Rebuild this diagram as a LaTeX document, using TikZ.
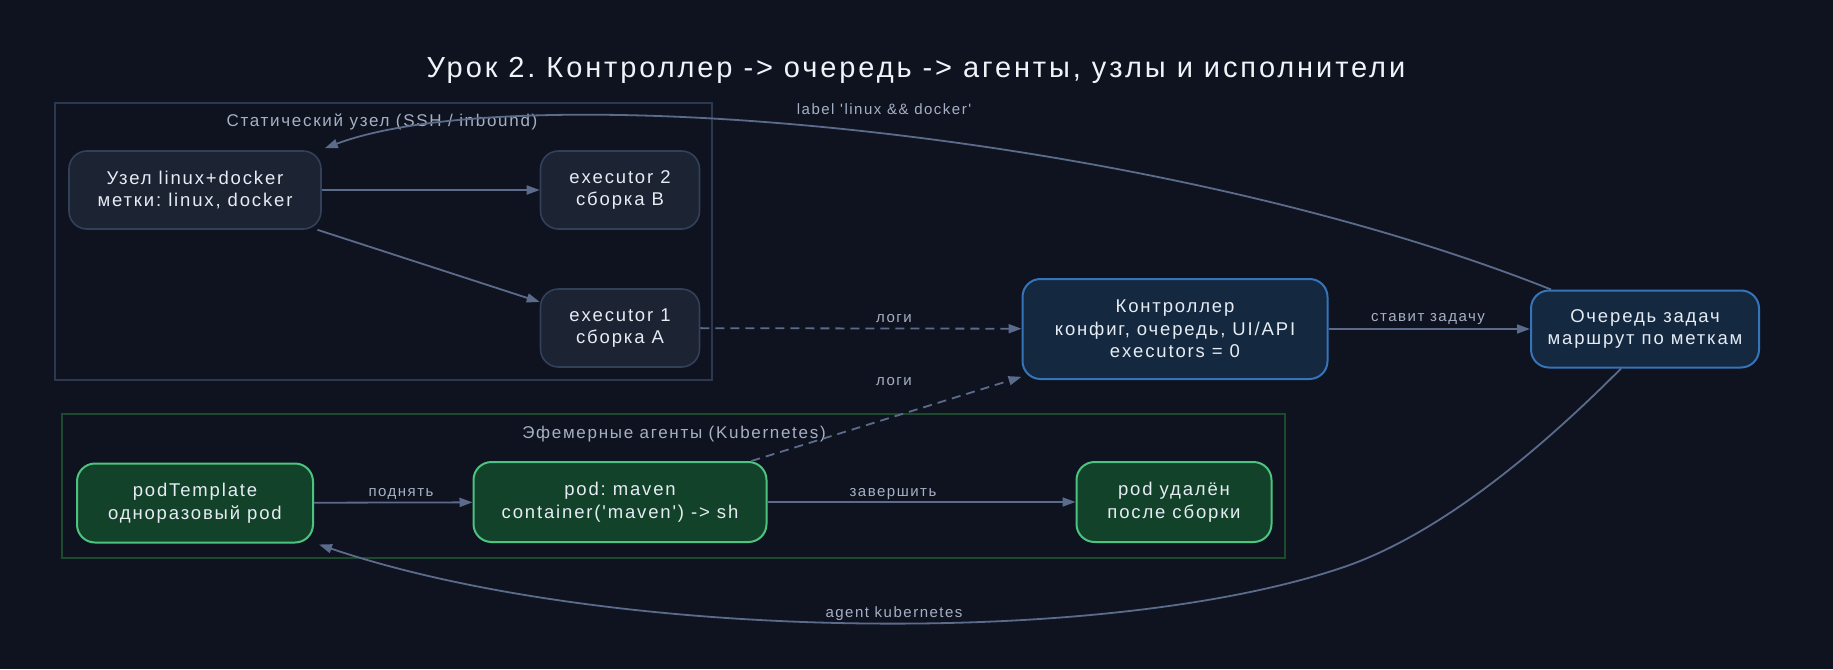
\documentclass[tikz,border=0pt]{standalone}
\usepackage{fontspec}
\setmainfont{Liberation Sans}[Ligatures=TeXOff, LetterSpace=10]
\usetikzlibrary{arrows.meta}
\definecolor{bg}{HTML}{0F1320}
\definecolor{darkfill}{HTML}{1C2333}
\definecolor{darkline}{HTML}{33405A}
\definecolor{bluefill}{HTML}{142840}
\definecolor{blueline}{HTML}{3574B8}
\definecolor{greenfill}{HTML}{13422A}
\definecolor{greenline}{HTML}{4CC480}
\definecolor{statline}{HTML}{2C3850}
\definecolor{kubeline}{HTML}{1B4A2C}
\definecolor{edgecol}{HTML}{5B6B8C}
\definecolor{labcol}{HTML}{A6B0C4}
\definecolor{nodetext}{HTML}{E6ECF4}
\definecolor{titlecol}{HTML}{F0F4F8}
\tikzset{
  box/.style={rectangle, rounded corners=18pt, align=center, inner sep=0pt,
    text=nodetext, font=\fontsize{18.5}{22.5}\selectfont},
  darkbox/.style={box, fill=darkfill, draw=darkline, line width=1.6pt},
  bluebox/.style={box, fill=bluefill, draw=blueline, line width=2pt},
  greenbox/.style={box, fill=greenfill, draw=greenline, line width=2pt},
  cluster/.style={draw, line width=1.3pt, fill=none},
  clabel/.style={text=labcol, font=\fontsize{17}{20}\selectfont, inner sep=0pt},
  elabel/.style={text=labcol, font=\fontsize{15}{18}\selectfont, inner sep=0pt},
  edge/.style={draw=edgecol, line width=1.8pt, -{Triangle[length=13pt,width=9pt]}},
  dashedge/.style={edge, dash pattern=on 9pt off 6pt},
}
\frenchspacing
\begin{document}
\begin{tikzpicture}[x=1pt,y=-1pt]
\fill[bg] (0,0) rectangle (1833,669);
\useasboundingbox (0,0) rectangle (1833,669);

\node[text=titlecol, font=\fontsize{29}{33}\selectfont, inner sep=0pt] (title) at (916,70) {Урок 2. Контроллер -> очередь -> агенты, узлы и исполнители};

% clusters
\draw[cluster, draw=statline] (55,103) rectangle (712,380);
\node[clabel] (statlab) at (382,122) {Статический узел (SSH / inbound)};
\draw[cluster, draw=kubeline] (62,414) rectangle (1285,558);
\node[clabel] (kubelab) at (674,434) {Эфемерные агенты (Kubernetes)};

% nodes
\node[darkbox, minimum width=252pt, minimum height=78pt] (uzel) at (195,190) {Узел linux+docker\\метки: linux, docker};
\node[darkbox, minimum width=159pt, minimum height=78pt] (ex2) at (620,190) {executor 2\\сборка B};
\node[darkbox, minimum width=159pt, minimum height=78pt] (ex1) at (620,328) {executor 1\\сборка A};
\node[bluebox, minimum width=305pt, minimum height=100pt] (ctrl) at (1175,329) {Контроллер\\конфиг, очередь, UI/API\\executors = 0};
\node[bluebox, minimum width=228pt, minimum height=77pt] (queue) at (1645,329) {Очередь задач\\маршрут по меткам};
\node[greenbox, minimum width=236pt, minimum height=79pt] (ptpl) at (195,503) {podTemplate\\одноразовый pod};
\node[greenbox, minimum width=293pt, minimum height=80pt] (maven) at (620,502) {pod: maven\\container('maven') -> sh};
\node[greenbox, minimum width=195pt, minimum height=80pt] (gone) at (1174,502) {pod удалён\\после сборки};

% edges
\draw[edge] (uzel) -- (ex2);
\draw[edge] (uzel) -- (ex1);
\draw[dashedge] (ex1) -- (ctrl);
\draw[dashedge] (maven) -- (ctrl);
\draw[edge] (ctrl) -- (queue);
\draw[edge] (ptpl) -- (maven);
\draw[edge] (maven) -- (gone);
\coordinate (qtop) at ([xshift=21pt]queue.north west);
\coordinate (uzelend) at ([xshift=3pt,yshift=2pt]uzel.north east);
\draw[edge] (qtop) .. controls (1150,130) and (520,75) .. (uzelend);
\coordinate (qbot) at ([xshift=-24pt]queue.south);
\coordinate (mid) at (1344,567);
\coordinate (ptplend) at ([xshift=5pt,yshift=-1pt]ptpl.south east);
\draw[edge] (qbot) .. controls (1540,450) and (1440,534) .. (mid) .. controls (1100,650) and (600,640) .. (ptplend);

% edge labels
\node[elabel] (l1) at (894,319) {логи};
\node[elabel] (l2) at (894,382) {логи};
\node[elabel] (l3) at (1428,319) {ставит задачу};
\node[elabel] (l4) at (401,494) {поднять};
\node[elabel] (l5) at (893,494) {завершить};
\node[elabel] (l6) at (884,109) {label 'linux \&\& docker'};
\node[elabel] (l7) at (894,614) {agent kubernetes};
\end{tikzpicture}
\end{document}
